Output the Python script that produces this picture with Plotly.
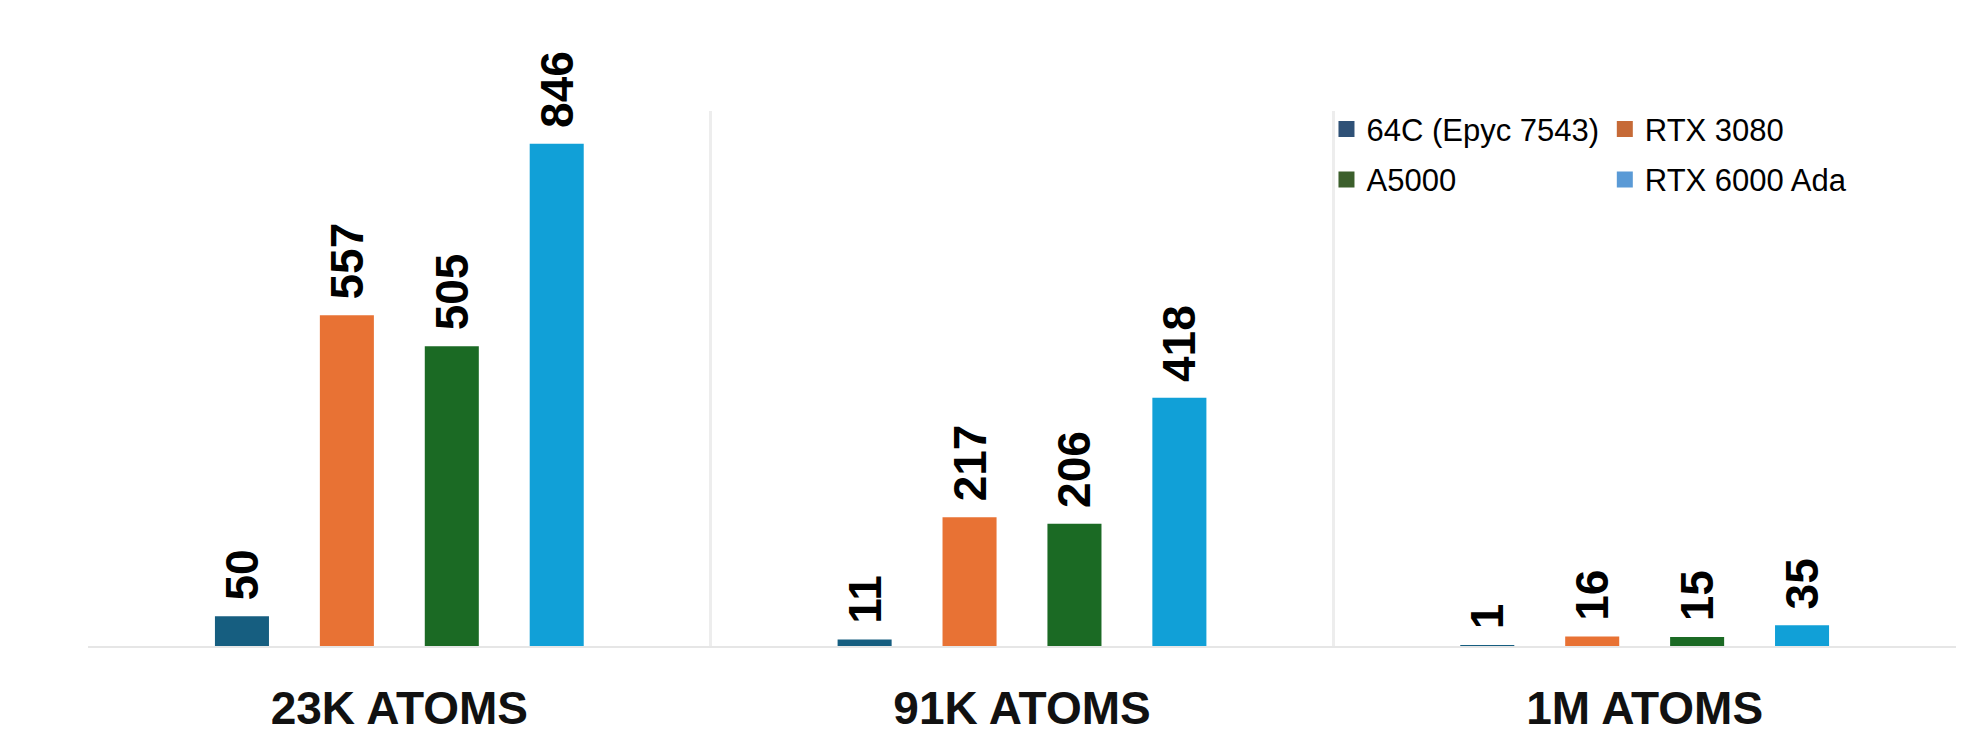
import plotly.graph_objects as go

categories = ["23K ATOMS", "91K ATOMS", "1M ATOMS"]
series_names = ["64C (Epyc 7543)", "RTX 3080", "A5000", "RTX 6000 Ada"]
epyc_7543 = [50, 11, 1]
rtx_3080 = [557, 217, 16]
a5000 = [505, 206, 15]
rtx_6000_ada = [846, 418, 35]

bar_colors = ["#165E80", "#E87234", "#1B6A24", "#11A0D7"]
legend_colors = ["#2F5177", "#C66A37", "#3C5F2C", "#5A9AD6"]
legend_ids = ["legend", "legend2", "legend", "legend2"]

fig = go.Figure()
for name, vals, col in zip(series_names, [epyc_7543, rtx_3080, a5000, rtx_6000_ada], bar_colors):
    fig.add_trace(go.Bar(
        x=categories, y=vals, name=name, marker_color=col, marker_line_width=0,
        showlegend=False,
        texttemplate="\u00a0%{y}", textposition="outside", textangle=-90,
        textfont=dict(family="Liberation Sans, Arial, sans-serif", size=46,
                      color="#000000", weight="bold"),
        constraintext="none", cliponaxis=False,
    ))

# legend entries (swatch colours as in the reference legend)
for name, col, lg in zip(series_names, legend_colors, legend_ids):
    fig.add_trace(go.Scatter(
        x=[None], y=[None], mode="markers", name=name, legend=lg, legendgroup=name,
        marker=dict(symbol="square", size=16, color=col),
        showlegend=True,
    ))

legend_font = dict(family="Liberation Sans, Arial, sans-serif", size=31, color="#000000")

fig.update_layout(
    width=1979, height=735,
    margin=dict(l=88, r=23, t=111, b=89),
    paper_bgcolor="white", plot_bgcolor="white",
    barmode="group", bargap=0.326, bargroupgap=0.485,
    legend=dict(x=0.663, y=1.016, xanchor="left", yanchor="top", orientation="v",
                font=legend_font, bgcolor="rgba(0,0,0,0)", itemwidth=30,
                traceorder="grouped", tracegroupgap=7),
    legend2=dict(x=0.812, y=1.016, xanchor="left", yanchor="top", orientation="v",
                 font=legend_font, bgcolor="rgba(0,0,0,0)", itemwidth=30,
                 traceorder="grouped", tracegroupgap=7),
    xaxis=dict(
        showgrid=True, gridcolor="#EDEDED", gridwidth=3, tickson="boundaries",
        ticks="", showline=True, linecolor="#E6E6E6", linewidth=2,
        tickfont=dict(family="Liberation Sans, Arial, sans-serif", size=46,
                      color="#111111", weight="bold"),
        ticklabelstandoff=21, zeroline=False, automargin=False,
    ),
    yaxis=dict(range=[0, 901], visible=False, showgrid=False, zeroline=False,
               automargin=False),
)

fig.write_html("out.html")
